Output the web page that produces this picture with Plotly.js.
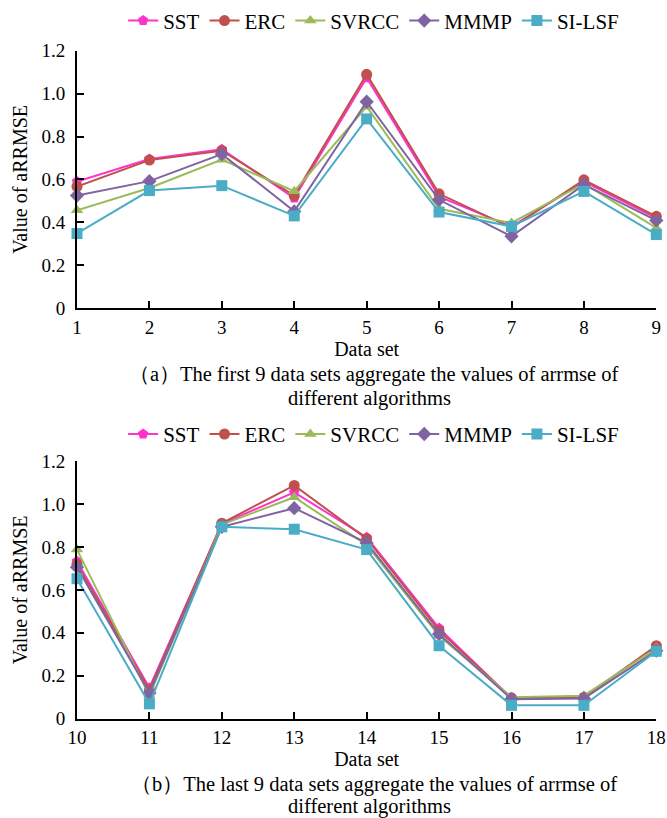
<!DOCTYPE html>
<html>
<head>
<meta charset="utf-8">
<script src="https://cdn.plot.ly/plotly-3.0.1.min.js"></script>
<style>
  html, body { margin: 0; padding: 0; background: #fff; }
  #chart { width: 667px; height: 818px; }
</style>
</head>
<body>
<div id="chart"></div>
<script>
// Algorithms compared and their styling
const algorithms = ['SST', 'ERC', 'SVRCC', 'MMMP', 'SI-LSF'];
const colors = ['#FF33CC', '#C0504D', '#9BBB59', '#8064A2', '#4BACC6'];
const symbols = ['pentagon', 'circle', 'triangle-up', 'diamond', 'square'];

// Data sets 1-9 (panel a)
const setsA = [1, 2, 3, 4, 5, 6, 7, 8, 9];
const sstA   = [0.590, 0.695, 0.741, 0.513, 1.074, 0.520, 0.380, 0.590, 0.420];
const ercA   = [0.567, 0.690, 0.734, 0.525, 1.090, 0.533, 0.375, 0.598, 0.428];
const svrccA = [0.456, 0.560, 0.692, 0.545, 0.939, 0.463, 0.397, 0.580, 0.374];
const mmmpA  = [0.525, 0.592, 0.718, 0.451, 0.962, 0.505, 0.335, 0.576, 0.409];
const silsfA = [0.348, 0.548, 0.571, 0.430, 0.882, 0.448, 0.381, 0.544, 0.343];

// Data sets 10-18 (panel b)
const setsB = [10, 11, 12, 13, 14, 15, 16, 17, 18];
const sstB   = [0.734, 0.144, 0.908, 1.055, 0.845, 0.422, 0.094, 0.097, 0.337];
const ercB   = [0.720, 0.134, 0.911, 1.087, 0.839, 0.410, 0.097, 0.100, 0.340];
const svrccB = [0.788, 0.108, 0.904, 1.032, 0.810, 0.386, 0.100, 0.107, 0.329];
const mmmpB  = [0.706, 0.119, 0.894, 0.981, 0.819, 0.394, 0.091, 0.094, 0.317];
const silsfB = [0.652, 0.069, 0.894, 0.883, 0.788, 0.340, 0.062, 0.062, 0.314];

// Y tick labels
const yTickVals = [0, 0.2, 0.4, 0.6, 0.8, 1.0, 1.2];
const yTickText = ['0', '0.2', '0.4', '0.6', '0.8', '1.0', '1.2'];

const seriesA = [sstA, ercA, svrccA, mmmpA, silsfA];
const seriesB = [sstB, ercB, svrccB, mmmpB, silsfB];

const FONT = 'Liberation Serif, Times New Roman, serif';

function makeTraces(xs, series, xa, ya, legendId) {
  return series.map((ys, i) => ({
    type: 'scatter',
    mode: 'lines+markers',
    name: algorithms[i],
    x: xs,
    y: ys,
    xaxis: xa,
    yaxis: ya,
    legend: legendId,
    cliponaxis: false,
    line: { color: colors[i], width: 2 },
    marker: { color: colors[i], symbol: symbols[i], size: 11 }
  }));
}

const traces = [
  ...makeTraces(setsA, seriesA, 'x', 'y', 'legend'),
  ...makeTraces(setsB, seriesB, 'x2', 'y2', 'legend2')
];

function xAxis(vals, anchor) {
  return {
    anchor: anchor,
    domain: [0, 0.992],
    range: [vals[0], vals[vals.length - 1]],
    tickvals: vals,
    ticktext: vals.map(String),
    ticks: 'inside',
    ticklen: 7,
    tickwidth: 2,
    tickcolor: '#000',
    ticklabelstandoff: 1,
    ticklabeloverflow: 'allow',
    showline: true,
    linecolor: '#000',
    linewidth: 2,
    showgrid: false,
    zeroline: false,
    tickfont: { family: FONT, size: 19, color: '#000' },
    title: { text: 'Data set', font: { family: FONT, size: 20, color: '#000' }, standoff: 4 }
  };
}

function yAxis(domain, anchor) {
  return {
    anchor: anchor,
    domain: domain,
    range: [0, 1.2],
    tickvals: yTickVals,
    ticktext: yTickText,
    ticks: 'inside',
    ticklen: 7,
    tickwidth: 2,
    tickcolor: '#000',
    ticklabelstandoff: 6,
    showline: true,
    linecolor: '#000',
    linewidth: 2,
    showgrid: false,
    zeroline: false,
    tickfont: { family: FONT, size: 19, color: '#000' },
    title: { text: 'Value of aRRMSE', font: { family: FONT, size: 20, color: '#000' }, standoff: 8 }
  };
}

const legendStyle = {
  orientation: 'h',
  xanchor: 'left',
  yanchor: 'middle',
  font: { family: FONT, size: 21, color: '#000' },
  bgcolor: 'rgba(0,0,0,0)',
  itemclick: false,
  tracegroupgap: 0
};

const captionFont = { family: FONT, size: 20.5, color: '#000' };

const layout = {
  width: 667,
  height: 818,
  margin: { l: 77, r: 6, t: 0, b: 0 },
  paper_bgcolor: '#fff',
  plot_bgcolor: '#fff',
  showlegend: true,
  xaxis: xAxis(setsA, 'y'),
  yaxis: yAxis([0.6271, 0.9438], 'x'),
  xaxis2: xAxis(setsB, 'y2'),
  yaxis2: yAxis([0.1222, 0.4389], 'x2'),
  legend: Object.assign({ x: 0.079, y: 1 - 16 / 818 }, legendStyle),
  legend2: Object.assign({ x: 0.079, y: 1 - 432 / 818 }, legendStyle),
  annotations: [
    { text: '（a）The first 9 data sets aggregate the values of arrmse of', xref: 'paper', yref: 'paper',
      x: 0.508, y: 1 - 372 / 818, xanchor: 'center', yanchor: 'middle', showarrow: false, font: captionFont },
    { text: 'different algorithms', xref: 'paper', yref: 'paper',
      x: 0.5, y: 1 - 396 / 818, xanchor: 'center', yanchor: 'middle', showarrow: false, font: captionFont },
    { text: '（b）The last 9 data sets aggregate the values of arrmse of', xref: 'paper', yref: 'paper',
      x: 0.508, y: 1 - 784 / 818, xanchor: 'center', yanchor: 'middle', showarrow: false, font: captionFont },
    { text: 'different algorithms', xref: 'paper', yref: 'paper',
      x: 0.5, y: 1 - 806 / 818, xanchor: 'center', yanchor: 'middle', showarrow: false, font: captionFont }
  ]
};

Plotly.newPlot('chart', traces, layout, { displayModeBar: false, staticPlot: true });
</script>
</body>
</html>
